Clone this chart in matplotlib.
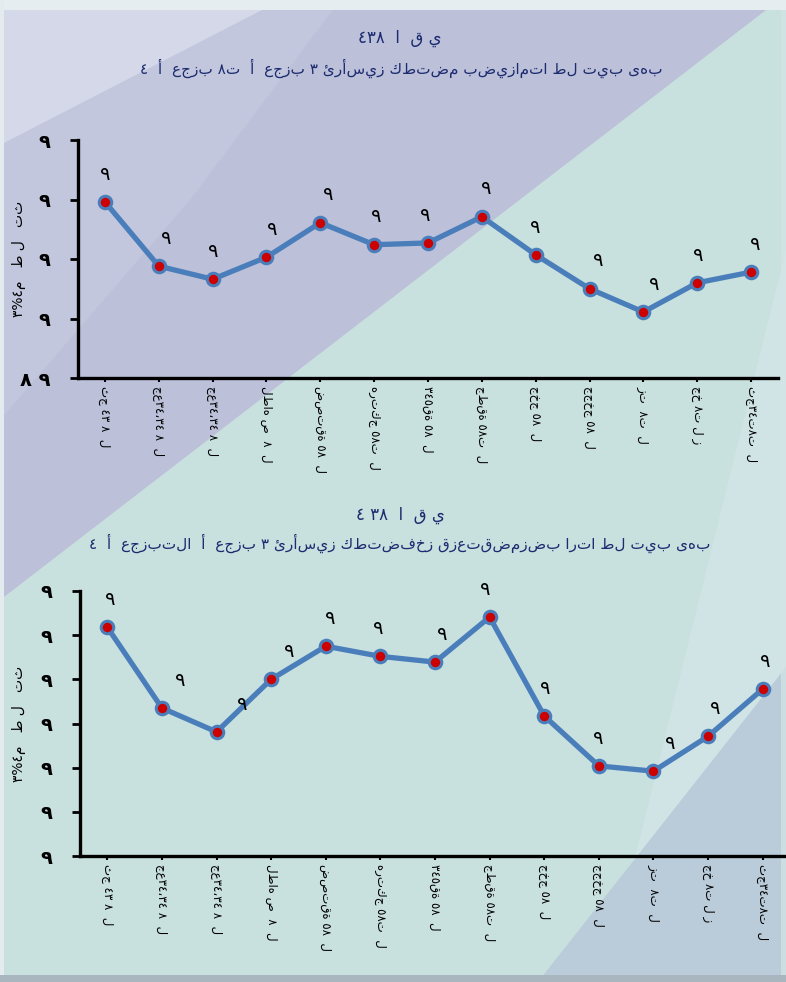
import numpy as np
import matplotlib
matplotlib.use('Agg')
import matplotlib.pyplot as plt
from matplotlib.patches import Polygon
from matplotlib.ticker import FixedLocator, FixedFormatter

plt.rcParams['font.family'] = ['DejaVu Sans']

W, H = 786, 982

# ---------------- data ----------------
categories = ["ثج ٤٣ ٨  ل", "جع٣٤،٣٤ ٨  ل", "جع٣٤،٣٤ ٨  ل", "لطاه ص  ٨  ل",
              "ضصتقة ٥٨  ل", "هرتكج ٥٨ت  ل", "٣٤٥قة ٥٨  ل", "جطقة ٥٨ت  ل",
              "جخج ٥٨  ل", "ججخج ٥٨  ل", "زت  ٨ت  ل", "جخ ٨ت ل ز", "ثج٣٤ت٨ت  ل"]

top_values = [2.96, 1.88, 1.66, 2.03, 2.61, 2.24, 2.27, 2.71, 2.07, 1.50, 1.11, 1.60, 1.78]
bottom_values = [5.18, 3.35, 2.81, 4.00, 4.75, 4.52, 4.39, 5.41, 3.17, 2.04, 1.92, 2.71, 3.78]

top_yticks = [0, 1, 2, 3, 4]
top_yticklabels = ["٨ ٩", "٩", "٩", "٩", "٩"]
bottom_yticks = [0, 1, 2, 3, 4, 5, 6]
bottom_yticklabels = ["٩", "٩", "٩", "٩", "٩", "٩", "٩"]
point_label = "٩"

top_title = ["٤٣٨  ا  ق ي", "٤  أ  عجزب ٨ت  أ  عجزب ٣ ئرأسيز كطتضم بضيزامتا طل تيب ىهب"]
bottom_title = ["٤ ٣٨  ا  ق ي", "٤  أ  عجزبتلا  أ  عجزب ٣ ئرأسيز كطتضفخز قزعتقضمزضب ارتا طل تيب ىهب"]
ylabel_text = "٣%٤م   ط ل   تث"

# label nudges in pixels (x only), bottom chart labels avoid the line
bottom_nudge = [3, 18, 26, 18, 4, -2, 7, -4, 1, -1, 17, 7, 3]
top_nudge = [0, 7, 1, 6, 8, 2, -3, 4, 0, 9, 11, 1, 4]

line_color = '#4a7ebb'
marker_face = '#cc0000'
title_color = '#1c2c70'

# ---------------- figure & background ----------------
fig = plt.figure(figsize=(W / 100, H / 100), dpi=100)
fig.patch.set_facecolor('#bcc0d9')

def px(points):
    return [(x / W, 1 - y / H) for x, y in points]

def add_poly(points, color, alpha=1.0):
    fig.patches.append(Polygon(px(points), closed=True, transform=fig.transFigure,
                               facecolor=color, edgecolor='none', alpha=alpha, zorder=-10))

add_poly([(0, 0), (340, 0), (190, 200), (0, 420)], '#c3c7de')
add_poly([(0, 0), (262, 10), (0, 145)], '#d5d8e9')
add_poly([(779, 0), (786, 0), (786, 982), (0, 982), (0, 600)], '#c8e0de')
add_poly([(848, 0), (786, 0), (786, 982), (604, 982)], '#d0e4e5')
add_poly([(538, 982), (786, 982), (786, 667)], '#bacbd9')
add_poly([(781, 0), (786, 0), (786, 982), (781, 982)], '#d3e4e6', 0.8)
add_poly([(0, 0), (786, 0), (786, 10), (0, 10)], '#e6edf1')
add_poly([(0, 0), (4, 0), (4, 982), (0, 982)], '#e3ebef')
add_poly([(0, 975), (786, 975), (786, 982), (0, 982)], '#a9b5bf')

# ---------------- charts ----------------
def draw_chart(rect, values, yticks, yticklabels, nudge, label_x):
    ax = fig.add_axes(rect)
    ax.set_facecolor('none')
    x = np.arange(len(values))
    ax.plot(x, values, color=line_color, linewidth=3.8, marker='o', markersize=9,
            markerfacecolor=marker_face, markeredgecolor=line_color, markeredgewidth=2.2,
            solid_joinstyle='round', clip_on=False, zorder=3)
    for i, v in enumerate(values):
        ax.annotate(point_label, (x[i], v), xytext=(nudge[i] * 0.72, 20),
                    textcoords='offset points', ha='center', va='center',
                    fontsize=14, color='black')
    ax.set_xlim(-0.5, len(values) - 0.5)
    ax.set_ylim(yticks[0], yticks[-1])
    for s in ['top', 'right']:
        ax.spines[s].set_visible(False)
    for s in ['left', 'bottom']:
        ax.spines[s].set_linewidth(2.4)
        ax.spines[s].set_color('black')
    ax.yaxis.set_major_locator(FixedLocator(yticks))
    ax.yaxis.set_major_formatter(FixedFormatter(yticklabels))
    ax.set_xticks(x)
    ax.set_xticklabels(categories, rotation=-90, fontsize=8.5, va='top', ha='center')
    ax.tick_params(axis='y', direction='out', length=6, width=2, labelsize=14, pad=14)
    ax.tick_params(axis='x', direction='out', length=3, width=1.5, pad=3)
    for t in ax.get_yticklabels():
        t.set_fontweight('bold')
    ax.set_ylabel(ylabel_text, fontsize=10)
    ax.yaxis.set_label_coords(label_x, 0.5)
    return ax

ax1 = draw_chart([78 / W, 1 - 378 / H, 700 / W, 238 / H], top_values,
                 top_yticks, top_yticklabels, top_nudge, (26 - 78) / 700)
ax2 = draw_chart([80 / W, 1 - 856 / H, 710 / W, 265 / H], bottom_values,
                 bottom_yticks, bottom_yticklabels, bottom_nudge, (26 - 80) / 710)

fig.text(400 / W, 1 - 38 / H, top_title[0], ha='center', va='center', fontsize=12, color=title_color)
fig.text(401 / W, 1 - 68 / H, top_title[1], ha='center', va='center', fontsize=11, color=title_color)
fig.text(400 / W, 1 - 515 / H, bottom_title[0], ha='center', va='center', fontsize=12, color=title_color)
fig.text(400 / W, 1 - 543 / H, bottom_title[1], ha='center', va='center', fontsize=11, color=title_color)

fig.savefig('out.png', dpi=100)
